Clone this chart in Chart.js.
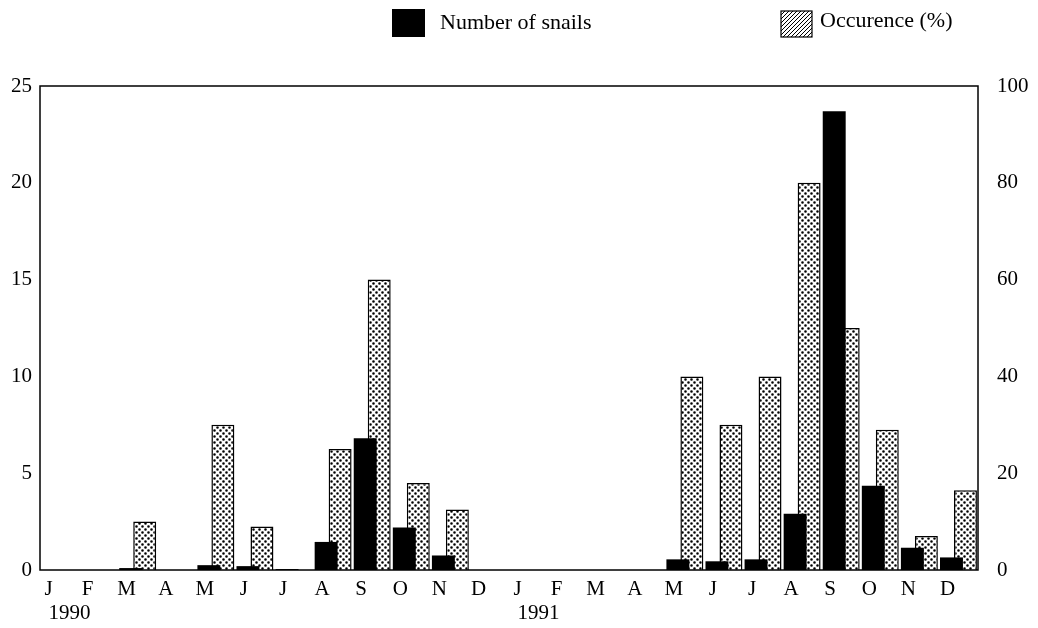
<!DOCTYPE html>
<html>
<head>
<meta charset="utf-8">
<script src="https://cdn.jsdelivr.net/npm/chart.js@4.4.0/dist/chart.umd.min.js"></script>
<style>
  html, body { margin: 0; padding: 0; background: #fff; }
  #wrap { width: 1038px; height: 628px; }
</style>
</head>
<body>
<div id="wrap"><canvas id="snailChart"></canvas></div>
<script>
// Months over two years (1990, 1991)
var months = ["J", "F", "M", "A", "M", "J", "J", "A", "S", "O", "N", "D",
              "J", "F", "M", "A", "M", "J", "J", "A", "S", "O", "N", "D"];
var years = ["1990", "1991"];

// Number of snails (left axis) and occurence in % (right axis)
var snails = [0, 0, 0.1, 0, 0.25, 0.2, 0.05, 1.45, 6.8, 2.2, 0.75, 0,
              0, 0, 0, 0, 0.55, 0.45, 0.55, 2.9, 23.7, 4.35, 1.15, 0.65];
var occurence = [0, 0, 10, 0, 30, 9, 0, 25, 60, 18, 12.5, 0,
                 0, 0, 0, 0, 40, 30, 40, 80, 50, 29, 7, 16.5];

var leftTicks = [0, 5, 10, 15, 20, 25];
var rightTicks = [0, 20, 40, 60, 80, 100];

var FONT = "'Liberation Serif', 'DejaVu Serif', serif";

// dotted fill used for the occurence bars
function dotPattern() {
  var c = document.createElement("canvas");
  c.width = 6; c.height = 6;
  var g = c.getContext("2d");
  g.fillStyle = "#fff";
  g.fillRect(0, 0, 6, 6);
  g.fillStyle = "#000";
  g.beginPath();
  g.arc(1.5, 1.5, 1.3, 0, Math.PI * 2);
  g.arc(4.5, 4.5, 1.3, 0, Math.PI * 2);
  g.fill();
  return g.createPattern(c, "repeat");
}

// hatched fill used only in the legend
function hatchPattern() {
  var c = document.createElement("canvas");
  c.width = 4; c.height = 4;
  var g = c.getContext("2d");
  g.fillStyle = "#fff";
  g.fillRect(0, 0, 4, 4);
  g.strokeStyle = "#000";
  g.lineWidth = 1;
  g.beginPath();
  g.moveTo(0, 4); g.lineTo(4, 0);
  g.moveTo(-1, 1); g.lineTo(1, -1);
  g.moveTo(3, 5); g.lineTo(5, 3);
  g.stroke();
  return g.createPattern(c, "repeat");
}

// frame around the plot area
var frame = {
  id: "frame",
  afterDatasetsDraw: function (chart) {
    var a = chart.chartArea, ctx = chart.ctx;
    ctx.save();
    ctx.strokeStyle = "#000";
    ctx.lineWidth = 1.5;
    ctx.strokeRect(a.left, a.top, a.right - a.left, a.bottom - a.top);
    ctx.restore();
  }
};

// year names under the first month of each year
var yearLabels = {
  id: "yearLabels",
  afterDraw: function (chart) {
    var xs = chart.scales.x, ctx = chart.ctx;
    ctx.save();
    ctx.fillStyle = "#000";
    ctx.font = "21px " + FONT;
    ctx.textAlign = "center";
    ctx.textBaseline = "middle";
    years.forEach(function (y, k) {
      ctx.fillText(y, xs.getPixelForTick(k * 12) + 10, 613);
    });
    ctx.restore();
  }
};

// legend across the top
var topLegend = {
  id: "topLegend",
  afterDraw: function (chart) {
    var ctx = chart.ctx, ds = chart.data.datasets;
    ctx.save();
    ctx.font = "22px " + FONT;
    ctx.fillStyle = "#000";
    ctx.textBaseline = "middle";
    ctx.fillRect(392, 9, 33, 28);
    ctx.fillText(ds[0].label, 440, 23);
    ctx.fillStyle = hatchPattern();
    ctx.fillRect(781, 11, 31, 26);
    ctx.strokeStyle = "#000";
    ctx.lineWidth = 1.2;
    ctx.strokeRect(781, 11, 31, 26);
    ctx.fillStyle = "#000";
    ctx.fillText(ds[1].label, 820, 21);
    ctx.restore();
  }
};

new Chart(document.getElementById("snailChart"), {
  type: "bar",
  data: {
    labels: months,
    datasets: [{
      label: "Number of snails",
      data: snails,
      yAxisID: "y",
      backgroundColor: "#000",
      borderWidth: 0,
      categoryPercentage: 0.716,
      barPercentage: 1.64
    }, {
      label: "Occurence (%)",
      data: occurence,
      yAxisID: "y1",
      backgroundColor: dotPattern(),
      borderColor: "#000",
      borderWidth: 1.5,
      borderSkipped: "bottom",
      categoryPercentage: 0.716,
      barPercentage: 1.64
    }]
  },
  options: {
    responsive: true,
    maintainAspectRatio: false,
    animation: false,
    layout: { padding: { top: 86, left: 0, right: 0, bottom: 0 } },
    plugins: {
      legend: { display: false },
      tooltip: { enabled: false }
    },
    scales: {
      x: {
        grid: { display: false, drawTicks: false },
        border: { display: false },
        ticks: {
          color: "#000",
          font: { family: FONT, size: 21 },
          padding: 7,
          labelOffset: -11,
          maxRotation: 0,
          autoSkip: false
        },
        afterFit: function (s) { s.height = 58; }
      },
      y: {
        position: "left",
        min: 0,
        max: 25,
        grid: { display: false, drawTicks: false },
        border: { display: false },
        ticks: { color: "#000", font: { family: FONT, size: 21 }, padding: 8 },
        afterBuildTicks: function (s) { s.ticks = leftTicks.map(function (v) { return { value: v }; }); },
        afterFit: function (s) { s.width = 40; }
      },
      y1: {
        position: "right",
        min: 0,
        max: 100,
        grid: { display: false, drawTicks: false },
        border: { display: false },
        ticks: { color: "#000", font: { family: FONT, size: 21 }, padding: 19 },
        afterBuildTicks: function (s) { s.ticks = rightTicks.map(function (v) { return { value: v }; }); },
        afterFit: function (s) { s.width = 60; }
      }
    }
  },
  plugins: [frame, yearLabels, topLegend]
});
</script>
</body>
</html>
